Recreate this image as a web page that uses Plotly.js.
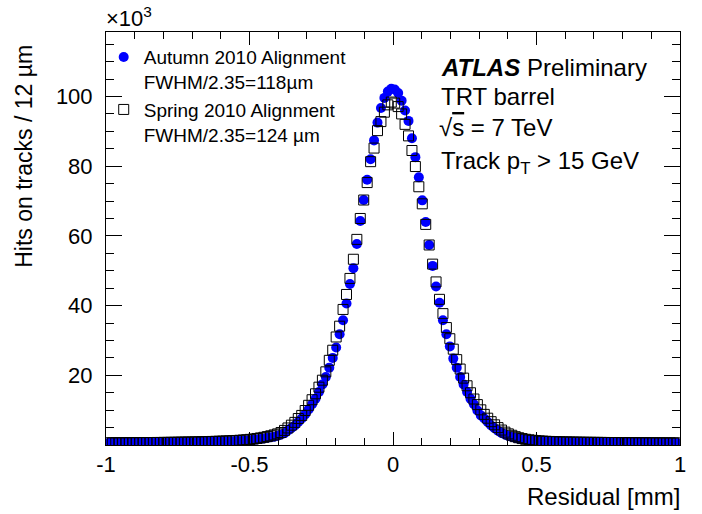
<!DOCTYPE html>
<html>
<head>
<meta charset="utf-8">
<script src="https://cdn.plot.ly/plotly-3.0.1.min.js"></script>
<style>html,body{margin:0;padding:0;background:#fff;}#chart{width:702px;height:514px;}</style>
</head>
<body>
<div id="chart"></div>
<script>
// Histogram of TRT barrel residuals, 12 um bins from -0.996 to 0.996 mm (values in thousands of hits)
const binWidth = 0.012;
const xStart = -0.996;

const autumnHits = [
  0.62,0.60,0.63,0.61,0.64,0.62,0.65,0.63,0.66,0.64,
  0.67,0.66,0.68,0.67,0.70,0.69,0.71,0.72,0.73,0.74,
  0.75,0.77,0.78,0.80,0.81,0.83,0.85,0.86,0.88,0.90,
  0.93,0.95,0.98,1.01,1.04,1.07,1.10,1.13,1.16,1.20,
  1.27,1.37,1.50,1.62,1.76,1.90,2.06,2.22,2.40,2.68,
  3.0,3.4,4.2,4.9,5.6,6.6,7.6,8.8,10.2,11.7,
  13.3,15.2,17.4,19.5,22.2,25.0,28.0,31.8,35.8,40.6,
  46.2,50.7,57.7,64.3,70.3,76.1,82.0,87.4,92.5,96.7,
  99.6,101.4,102.2,102.0,101.0,98.8,96.0,93.0,88.0,82.6,
  76.8,70.2,64.0,57.4,51.4,45.5,40.8,35.8,31.8,28.3,
  24.8,22.2,19.5,17.4,15.2,13.3,11.7,9.9,8.5,7.6,
  6.6,5.6,4.8,4.1,3.5,3.0,2.6,2.3,2.05,1.85,
  1.68,1.54,1.42,1.32,1.24,1.17,1.11,1.06,1.02,0.98,
  0.95,0.92,0.90,0.88,0.86,0.84,0.82,0.80,0.79,0.77,
  0.76,0.74,0.73,0.72,0.71,0.70,0.69,0.68,0.67,0.66,
  0.66,0.65,0.64,0.64,0.63,0.62,0.62,0.61,0.61,0.60,
  0.60,0.59,0.59,0.58,0.58,0.57
];

const springHits = [
  0.66,0.64,0.67,0.65,0.68,0.66,0.69,0.67,0.70,0.69,
  0.71,0.70,0.72,0.72,0.74,0.74,0.76,0.77,0.78,0.80,
  0.81,0.83,0.85,0.86,0.88,0.90,0.92,0.95,0.97,1.00,
  1.03,1.06,1.09,1.13,1.17,1.21,1.26,1.31,1.37,1.44,
  1.52,1.62,1.74,1.88,2.04,2.22,2.42,2.65,2.9,3.2,
  3.6,4.2,4.9,5.7,6.5,7.6,8.5,9.9,11.4,13.0,
  14.7,16.6,18.6,21.0,24.3,27.2,31.0,34.1,38.9,43.2,
  47.8,53.3,59.0,65.0,70.3,75.3,81.3,85.2,90.2,92.8,
  95.5,97.6,98.4,98.1,97.1,95.0,92.0,88.7,84.5,79.9,
  74.1,69.2,63.3,57.4,51.9,46.8,41.8,37.7,33.7,30.5,
  27.5,24.5,21.8,19.2,17.0,15.0,13.2,11.6,10.1,8.8,
  7.7,6.7,5.8,5.0,4.3,3.7,3.2,2.8,2.4,2.1,
  1.85,1.65,1.5,1.37,1.27,1.19,1.12,1.07,1.03,0.99,
  0.96,0.93,0.91,0.89,0.87,0.85,0.83,0.82,0.80,0.79,
  0.78,0.77,0.76,0.75,0.74,0.73,0.72,0.71,0.70,0.70,
  0.69,0.68,0.68,0.67,0.67,0.66,0.66,0.65,0.65,0.64,
  0.64,0.63,0.63,0.62,0.62,0.61
];

const xTickVals = [-1, -0.5, 0, 0.5, 1];
const xTickText = ["-1", "-0.5", "0", "0.5", "1"];
const yTickVals = [20, 40, 60, 80, 100];
const yTickText = ["20", "40", "60", "80", "100"];

const autumnLabel = "Autumn 2010 Alignment<br>FWHM/2.35=118\u00b5m";
const springLabel = "Spring 2010 Alignment<br>FWHM/2.35=124 \u00b5m";

function binCenters(n) {
  const c = [];
  for (let i = 0; i < n; i++) c.push(+(xStart + binWidth * (i + 0.5)).toFixed(4));
  return c;
}

const FONT = "Liberation Sans, Arial, Helvetica, sans-serif";

const traces = [
  {
    x: binCenters(autumnHits.length), y: autumnHits,
    type: "scatter", mode: "markers", name: autumnLabel,
    marker: {symbol: "circle", size: 10, color: "#0000ff", line: {width: 0}},
    hoverinfo: "skip"
  },
  {
    x: binCenters(springHits.length), y: springHits,
    type: "scatter", mode: "markers", name: springLabel,
    marker: {symbol: "square-open", size: 10, color: "#000000", line: {width: 1, color: "#000000"}},
    hoverinfo: "skip"
  }
];

const minorX = [];
for (let v = -9; v <= 9; v++) if (v % 5 !== 0) minorX.push(v / 10);
const minorY = [];
for (let v = 5; v <= 115; v += 5) if (v % 20 !== 0) minorY.push(v);

const layout = {
  width: 702, height: 514,
  margin: {l: 106, r: 22, t: 32, b: 69},
  paper_bgcolor: "#ffffff", plot_bgcolor: "#ffffff",
  font: {family: FONT, color: "#000000", size: 20},
  showlegend: true,
  legend: {
    x: -0.004, y: 0.985, xanchor: "left", yanchor: "top",
    bgcolor: "rgba(0,0,0,0)", borderwidth: 0,
    font: {family: FONT, size: 19, color: "#000"},
    valign: "top", itemwidth: 30, tracegroupgap: 0
  },
  xaxis: {
    range: [-1, 1], showgrid: false, zeroline: false,
    showline: true, linecolor: "#000", linewidth: 1, mirror: "ticks",
    ticks: "inside", ticklen: 13, tickwidth: 1, tickcolor: "#000",
    tickmode: "array", tickvals: xTickVals, ticktext: xTickText,
    tickfont: {family: FONT, size: 22, color: "#000"},
    minor: {tickmode: "array", tickvals: minorX, ticks: "inside", ticklen: 7, tickwidth: 1, tickcolor: "#000", showgrid: false}
  },
  yaxis: {
    range: [0.01, 118.5], showgrid: false, zeroline: false,
    showline: true, linecolor: "#000", linewidth: 1, mirror: "ticks",
    ticks: "inside", ticklen: 16, tickwidth: 1, tickcolor: "#000",
    tickmode: "array", tickvals: yTickVals, ticktext: yTickText,
    tickfont: {family: FONT, size: 22, color: "#000"},
    ticklabelstandoff: 8,
    minor: {tickmode: "array", tickvals: minorY, ticks: "inside", ticklen: 8, tickwidth: 1, tickcolor: "#000", showgrid: false}
  },
  annotations: [
    {text: "Residual [mm]", xref: "paper", yref: "paper", x: 1.004, y: -0.124, xanchor: "right", yanchor: "middle", showarrow: false, font: {family: FONT, size: 24}},
    {text: "Hits on tracks / 12 \u00b5m", xref: "paper", yref: "paper", x: -0.143, y: 0.70, xanchor: "center", yanchor: "middle", textangle: -90, showarrow: false, font: {family: FONT, size: 23}},
    {text: "\u00d710<sup>3</sup>", xref: "paper", yref: "paper", x: -0.003, y: 1.037, xanchor: "left", yanchor: "middle", showarrow: false, font: {family: FONT, size: 22}},
    {text: "<b><i>ATLAS</i></b> Preliminary", xref: "paper", yref: "paper", x: 0.580, y: 0.913, xanchor: "left", yanchor: "middle", showarrow: false, font: {family: FONT, size: 24}},
    {text: "TRT barrel", xref: "paper", yref: "paper", x: 0.580, y: 0.843, xanchor: "left", yanchor: "middle", showarrow: false, font: {family: FONT, size: 24}},
    {text: "\u221a<span style=\"text-decoration:overline\">s</span> = 7 TeV", xref: "paper", yref: "paper", x: 0.576, y: 0.768, xanchor: "left", yanchor: "middle", showarrow: false, font: {family: FONT, size: 24}},
    {text: "Track p<sub>T</sub> &gt; 15 GeV", xref: "paper", yref: "paper", x: 0.580, y: 0.685, xanchor: "left", yanchor: "middle", showarrow: false, font: {family: FONT, size: 24}}
  ]
};

Plotly.newPlot("chart", traces, layout, {displayModeBar: false, staticPlot: true});
</script>
</body>
</html>
